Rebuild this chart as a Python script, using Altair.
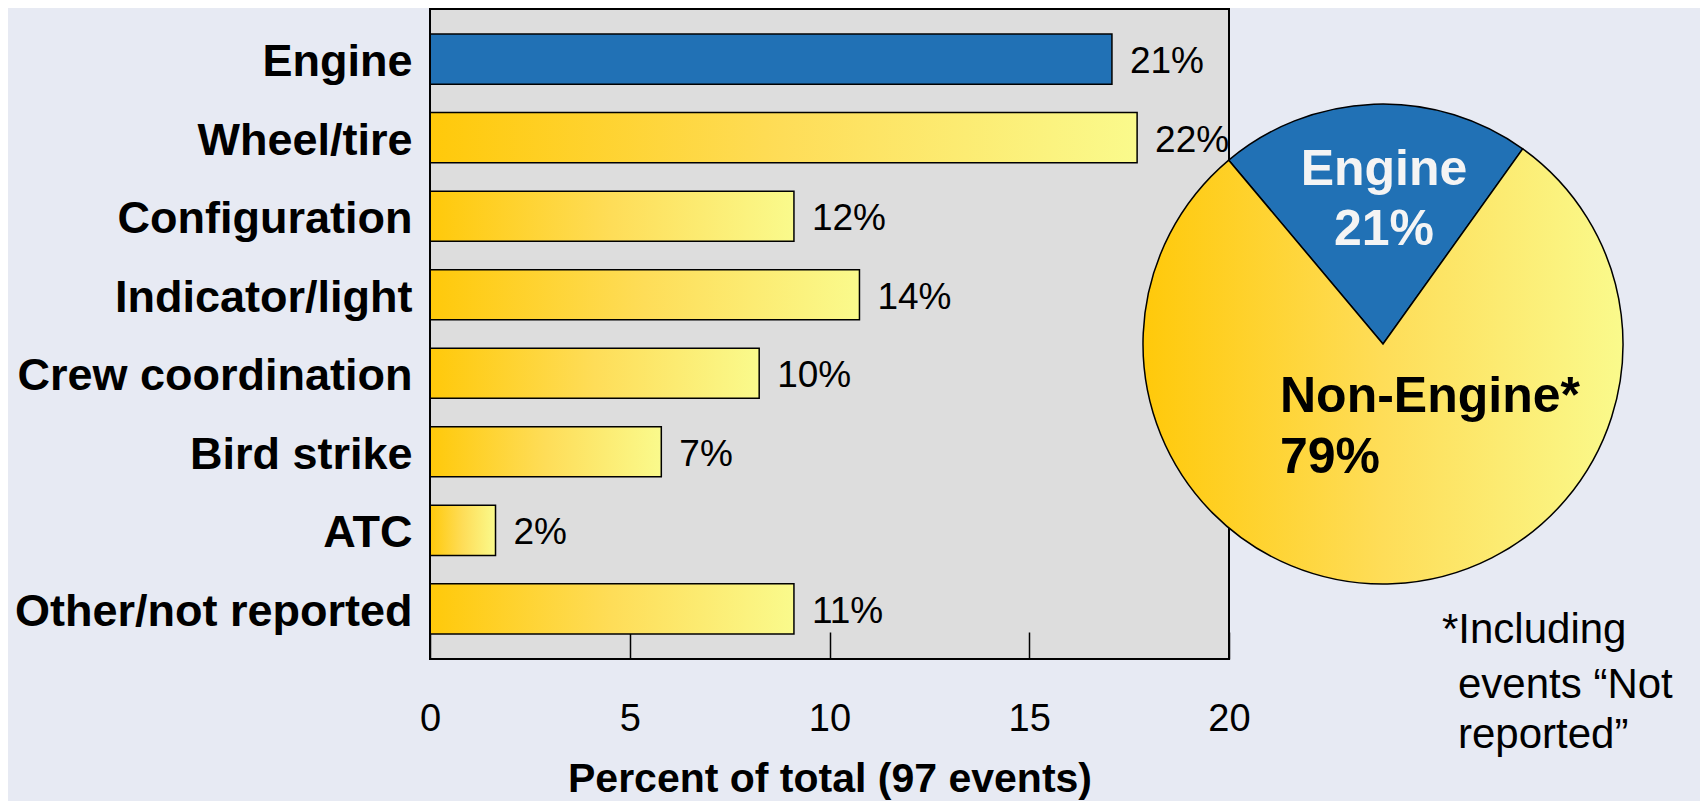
import math
import altair as alt
import pandas as pd

# ---------------- data ----------------
categories = ["Engine", "Wheel/tire", "Configuration", "Indicator/light",
              "Crew coordination", "Bird strike", "ATC", "Other/not reported"]
bar_values = [17.07, 17.7, 9.11, 10.75, 8.24, 5.79, 1.64, 9.11]
bar_labels = ["21%", "22%", "12%", "14%", "10%", "7%", "2%", "11%"]
x_ticks = [0, 5, 10, 15, 20]
x_title = "Percent of total (97 events)"

pie_parts = ["Engine", "Non-Engine"]
pie_shares = [21, 79]
pie_text_engine = ["Engine", "21%"]
pie_text_non = ["Non-Engine*", "79%"]
footnote_first = ["*Including"]
footnote_rest = ["events \u201cNot", "reported\u201d"]

# ---------------- styles ----------------
FONT = "Liberation Sans, Arial, sans-serif"
BLUE = "#2171B5"
GOLD = alt.LinearGradient(
    gradient="linear", x1=0, x2=1, y1=0, y2=0,
    stops=[alt.GradientStop(offset=0, color="#FFC90A"),
           alt.GradientStop(offset=0.5, color="#FEDD58"),
           alt.GradientStop(offset=1, color="#FAFA8C")])

bars_df = pd.DataFrame({"category": categories, "value": bar_values, "label": bar_labels})
pie_df = pd.DataFrame({"part": pie_parts, "share": pie_shares, "order": list(range(len(pie_parts)))})

y_enc = alt.Y("category:N", sort=categories,
              scale=alt.Scale(paddingInner=0.36, paddingOuter=0.32),
              axis=alt.Axis(title=None, domain=False, ticks=False, tickSize=0, grid=False,
                            labelPadding=18, labelFontSize=45, labelFontWeight="bold",
                            labelColor="black", labelFont=FONT, labelLimit=800,
                            labelOffset=3))
x_enc = alt.X("value:Q", scale=alt.Scale(domain=[0, 20], nice=False, zero=True),
              axis=alt.Axis(values=x_ticks, title=x_title, domain=False, ticks=False, tickSize=0,
                            labelPadding=41, labelFontSize=38, labelFont=FONT, labelColor="black",
                            labelFlush=False, labelOverlap=False,
                            grid=True, gridColor="black", gridWidth=1.5, gridOpacity=1,
                            gridDash=[27, 2000],
                            titleFontSize=41, titleFontWeight="bold", titleFont=FONT,
                            titleColor="black", titlePadding=21))

base = alt.Chart(bars_df)
bars = base.mark_bar(stroke="black", strokeWidth=1.5).encode(
    x=x_enc, y=y_enc,
    fill=alt.condition(alt.datum.category == "Engine", alt.value(BLUE), alt.value(GOLD)))
labels = base.mark_text(align="left", baseline="middle", dx=18, dy=3, fontSize=37,
                        font=FONT, color="black").encode(
    x="value:Q", y=alt.Y("category:N", sort=categories), text="label:N")

border = alt.Chart(alt.Data(values=[{"b": 1}])).mark_rect(
    fillOpacity=0, stroke="black", strokeWidth=2).encode(
    x=alt.value(0), x2=alt.value("width"), y=alt.value(0), y2=alt.value("height"))

start = math.radians(-40)
pie = alt.Chart(pie_df).mark_arc(radius=240, stroke="black", strokeWidth=1.5).encode(
    theta=alt.Theta("share:Q", stack=True,
                    scale=alt.Scale(range=[start, start + 2 * math.pi])),
    order=alt.Order("order:Q"),
    fill=alt.condition(alt.datum.part == "Engine", alt.value(BLUE), alt.value(GOLD)),
    x=alt.value(953), y=alt.value(335))

eng_text = alt.Chart(alt.Data(values=[{"t": "\n".join(pie_text_engine)}])).mark_text(
    align="center", baseline="alphabetic", lineBreak="\n", lineHeight=60,
    fontSize=50, fontWeight="bold", font=FONT, color="#F4F4F4").encode(
    text="t:N", x=alt.value(954), y=alt.value(176))

non_text = alt.Chart(alt.Data(values=[{"t": "\n".join(pie_text_non)}])).mark_text(
    align="left", baseline="alphabetic", lineBreak="\n", lineHeight=61,
    fontSize=50, fontWeight="bold", font=FONT, color="black").encode(
    text="t:N", x=alt.value(850), y=alt.value(403))

foot1 = alt.Chart(alt.Data(values=[{"t": "\n".join(footnote_first)}])).mark_text(
    align="left", baseline="alphabetic", lineBreak="\n", lineHeight=51,
    fontSize=42, font=FONT, color="black").encode(
    text="t:N", x=alt.value(1012), y=alt.value(634))

foot2 = alt.Chart(alt.Data(values=[{"t": "\n".join(footnote_rest)}])).mark_text(
    align="left", baseline="alphabetic", lineBreak="\n", lineHeight=50,
    fontSize=42, font=FONT, color="black").encode(
    text="t:N", x=alt.value(1028), y=alt.value(689))

chart = alt.layer(bars, labels, border, pie, eng_text, non_text, foot1, foot2).properties(
    width=799, height=650,
    padding={"left": 422, "top": 1, "right": 471, "bottom": 142},
    autosize=alt.AutoSizeParams(type="none"),
    background="#E7EAF3",
).configure_view(fill="#DDDDDD", stroke="transparent")

chart.save("out.html", embed_options={"renderer": "svg", "actions": False})
